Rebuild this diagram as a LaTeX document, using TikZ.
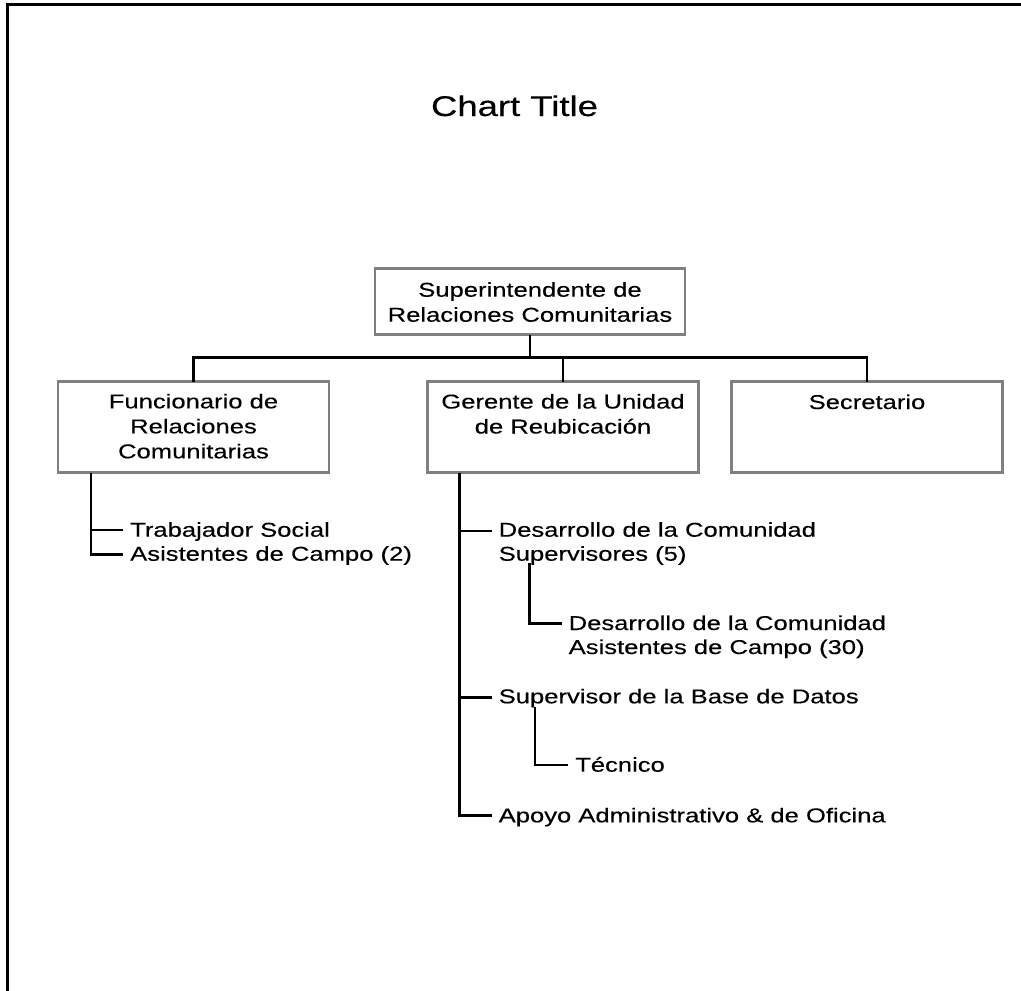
\documentclass[tikz,border=0pt]{standalone}
\usepackage{fontspec}
\setmainfont{Liberation Sans}
\newfontfamily\chartfont[FakeStretch=1.28,FakeBold=0.3]{Liberation Sans}
\definecolor{boxgray}{RGB}{128,128,128}
\begin{document}
\begin{tikzpicture}[x=1pt,y=-1pt,
  every node/.style={font=\chartfont\fontsize{20}{25}\selectfont},
  orgbox/.style={draw=boxgray, line width=2.6pt, rectangle, inner sep=0pt, outer sep=0pt},
  boxtext/.style={align=center, inner sep=0pt, anchor=base},
  item/.style={align=left, inner xsep=7pt, inner ysep=0pt, anchor=base west,
    font=\chartfont\fontsize{20}{24}\selectfont},
  conn/.style={line width=2.5pt, draw=black},
  frame/.style={line width=3pt, draw=black},
]
\useasboundingbox[fill=white] (0,0) rectangle (1021,991);
\draw[frame] (1021,4) -- (7,4) -- (7,991);

% title
\node[anchor=base, inner sep=0pt, font=\chartfont\fontsize{28.5}{34}\selectfont] (title) at (514.5,116) {Chart Title};

% boxes
\node[orgbox, minimum width=310pt, minimum height=66pt] (sup) at (530,301.5) {};
\node[orgbox, minimum width=271pt, minimum height=91pt] (fun) at (193.5,427) {};
\node[orgbox, minimum width=271pt, minimum height=91pt] (ger) at (563,427) {};
\node[orgbox, minimum width=271pt, minimum height=91pt] (sec) at (867,427) {};

% box texts (base anchor = baseline of the last line)
\node[boxtext] (supT) at (530,321.7) {Superintendente de\\Relaciones Comunitarias};
\node[boxtext] (funT) at (193.5,458.3) {Funcionario de\\Relaciones\\Comunitarias};
\node[boxtext] (gerT) at (563,433.5) {Gerente de la Unidad\\de Reubicación};
\node[boxtext] (secT) at (867,409) {Secretario};

% top connectors
\draw[conn] (sup.south) -- ++(0,23) coordinate (bus);
\draw[conn] (fun.north) -- (fun.north |- bus) -- (sec.north |- bus) -- (sec.north);
\draw[conn] (ger.north) -- (ger.north |- bus);

% list items under Funcionario
\node[item] (trab) at (123,536.7) {Trabajador Social};
\node[item] (asis) at (123,560.7) {Asistentes de Campo (2)};
\draw[conn] ([xshift=33pt]fun.south west) |- ([yshift=6pt]asis.base west);
\draw[conn] ([xshift=33pt]fun.south west) |- ([yshift=6.5pt]trab.base west);

% list items under Gerente
\node[item] (dev) at (491.5,560.7) {Desarrollo de la Comunidad\\Supervisores (5)};
\node[item] (devA) at (561.5,654) {Desarrollo de la Comunidad\\Asistentes de Campo (30)};
\node[item] (db) at (491.5,703.3) {Supervisor de la Base de Datos};
\node[item] (tec) at (568,771.7) {Técnico};
\node[item] (apo) at (491.5,822.3) {Apoyo Administrativo \& de Oficina};

\draw[conn] ([xshift=32pt]ger.south west) |- ([yshift=7pt]apo.base west);
\draw[conn] ([xshift=32pt]ger.south west) |- ([yshift=29.5pt]dev.base west);
\draw[conn] ([xshift=32pt]ger.south west) |- ([yshift=6pt]db.base west);
\draw[conn] ([xshift=38pt,yshift=-2.3pt]dev.base west) |- ([yshift=30.5pt]devA.base west);
\draw[conn] ([xshift=43.5pt,yshift=-3.5pt]db.base west) |- ([yshift=6.7pt]tec.base west);
\end{tikzpicture}
\end{document}
